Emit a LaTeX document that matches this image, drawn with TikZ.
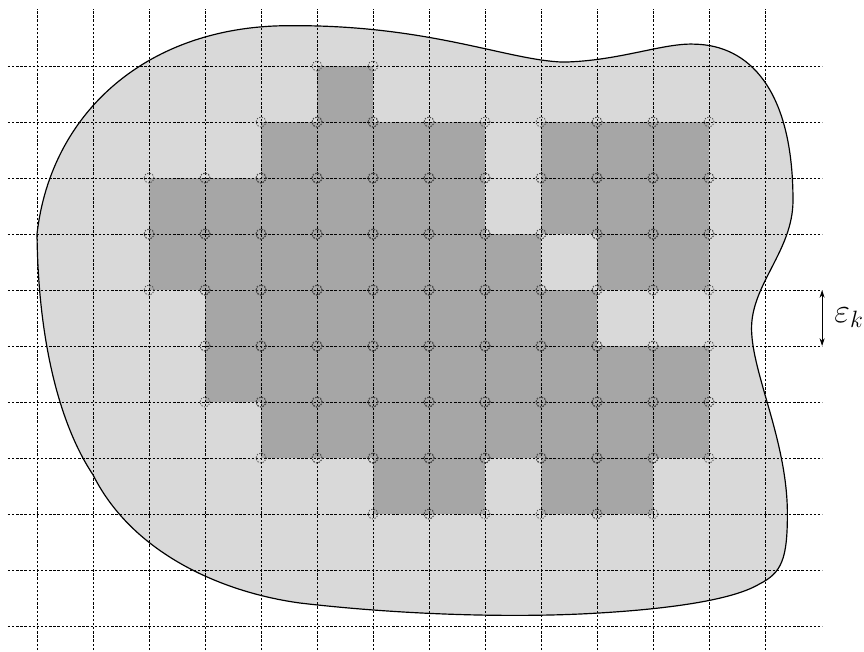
\documentclass[tikz,border=0pt]{standalone}
\usepackage{amsmath,amssymb}
\usepackage{tikz}
\usetikzlibrary{arrows.meta,positioning}

\begin{document}
\begin{tikzpicture}[x=1cm,y=1cm,
  blob/.style={draw=black, line width=0.6pt, fill=gray!30},
  cell/.style={fill=gray!70},
  gridline/.style={black, line width=0.5pt,
    dash pattern=on 1.2pt off 0.9pt},
  corner/.style={draw=black!70, line width=0.4pt,
    dash pattern=on 0.7pt off 0.7pt},
  arr/.style={{Stealth[length=4pt,width=2.6pt]}-{Stealth[length=4pt,width=2.6pt]},
    line width=0.5pt},
  lab/.style={font=\LARGE, inner sep=6pt}]

\useasboundingbox (-0.661,-0.464) rectangle (14.768,11.179);

% The region
\path[blob] (0,7)
  .. controls (0.25,9.2) and (2.0,10.72) .. (4.5,10.72)
  .. controls (7,10.74) and (8.4,10.1) .. (9.4,10.07)
  .. controls (10.4,10.09) and (11.2,10.42) .. (11.75,10.39)
  .. controls (12.7,10.37) and (13.5,9.6) .. (13.5,7.6)
  .. controls (13.5,6.7) and (12.75,6.1) .. (12.76,5.3)
  .. controls (12.77,4.5) and (13.4,3.3) .. (13.4,2)
  .. controls (13.4,1.2) and (13.3,0.95) .. (12.9,0.75)
  .. controls (12.4,0.45) and (11.2,0.3) .. (10,0.23)
  .. controls (8.5,0.14) and (6.5,0.2) .. (4.7,0.41)
  .. controls (3.3,0.6) and (1.7,1.3) .. (1,2.7)
  .. controls (0.4,3.6) and (0.02,5.1) .. (0,7) -- cycle;

% Cells lying inside
\foreach \r/\cols in {9/{5}, 8/{4,5,6,7,9,10,11},
    7/{2,3,4,5,6,7,9,10,11}, 6/{2,3,4,5,6,7,8,10,11},
    5/{3,4,5,6,7,8,9}, 4/{3,4,5,6,7,8,9,10,11},
    3/{4,5,6,7,8,9,10,11}, 2/{6,7,9,10}}
  \foreach \c in \cols
    \fill[cell] (\c,\r) rectangle ++(1,1);

% Grid
\foreach \x in {0,...,13}
  \draw[gridline] (\x,-0.43) -- (\x,11.02);
\foreach \y in {0,...,10}
  \draw[gridline] (-0.52,\y) -- (14.02,\y);

% Vertices of the cells
\foreach \r/\cols in {9/{5}, 8/{4,5,6,7,9,10,11},
    7/{2,3,4,5,6,7,9,10,11}, 6/{2,3,4,5,6,7,8,10,11},
    5/{3,4,5,6,7,8,9}, 4/{3,4,5,6,7,8,9,10,11},
    3/{4,5,6,7,8,9,10,11}, 2/{6,7,9,10}}
  \foreach \c in \cols {
    \draw[corner] (\c,\r) circle (0.09);
    \draw[corner] (\c+1,\r) circle (0.09);
    \draw[corner] (\c,\r+1) circle (0.09);
    \draw[corner] (\c+1,\r+1) circle (0.09);
  }

% Mesh size
\coordinate (etop) at (14.02,6);
\coordinate (ebot) at (14.02,5);
\draw[arr] (etop) -- node[lab, right] (eps) {$\varepsilon_k$} (ebot);

\end{tikzpicture}
\end{document}
